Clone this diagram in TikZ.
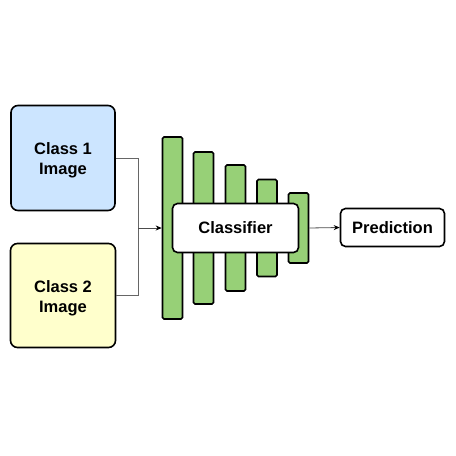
\documentclass[tikz,border=0pt]{standalone}
\usepackage{fontspec}
\setmainfont{Liberation Sans}
\usetikzlibrary{arrows.meta}

\definecolor{imgblue}{HTML}{CCE5FF}
\definecolor{imgyellow}{HTML}{FFFFCC}
\definecolor{layergreen}{HTML}{97D077}

\tikzset{
  box/.style={draw=black,line width=1.6pt,rounded corners=7pt,align=center,
    font=\fontsize{16.5}{20}\selectfont\bfseries,inner sep=0pt},
  bar/.style={draw=black,line width=1.6pt,fill=layergreen,rounded corners=1.5pt,
    minimum width=20pt,inner sep=0pt},
  link/.style={draw=black!60,line width=.8pt},
  arr/.style={draw=black!70,line width=.8pt,-{Stealth[length=6pt,width=5pt,black]}}
}

\begin{document}
\begin{tikzpicture}[x=1pt,y=-1pt]
            \useasboundingbox (0,0) rectangle (456,456);

            \node[box,fill=imgblue,minimum width=104pt,minimum height=105pt] (c1) at (63,158) {\rule{0pt}{17pt}Class 1\\Image};
            \node[box,fill=imgyellow,minimum width=105pt,minimum height=104pt] (c2) at (63,295.5) {\rule{0pt}{17pt}Class 2\\Image};

            % layers of the network, widest first
            \foreach \x/\h/\i in {172.5/182/1,203.5/152/2,235.5/126/3,267/97/4,298.5/70/5} {
            \node[bar,minimum height=\h pt] (b\i) at (\x,228) {};}

            \node[box,fill=white,rounded corners=5pt,minimum width=126pt,minimum height=49pt] (cls) at (235.5,228) {Classifier};
            \node[box,fill=white,rounded corners=5pt,minimum width=104pt,minimum height=38pt] (pred) at (392.5,227.5) {Prediction};

            \coordinate (join) at (138,228);
            \draw[link] (c1.east) -| (join);
            \draw[link] (c2.east) -| (join);
            \draw[arr] (join) -- (b1.west);
            \draw[arr] (b5.east) -- (pred.west);
        \end{tikzpicture}
\end{document}
